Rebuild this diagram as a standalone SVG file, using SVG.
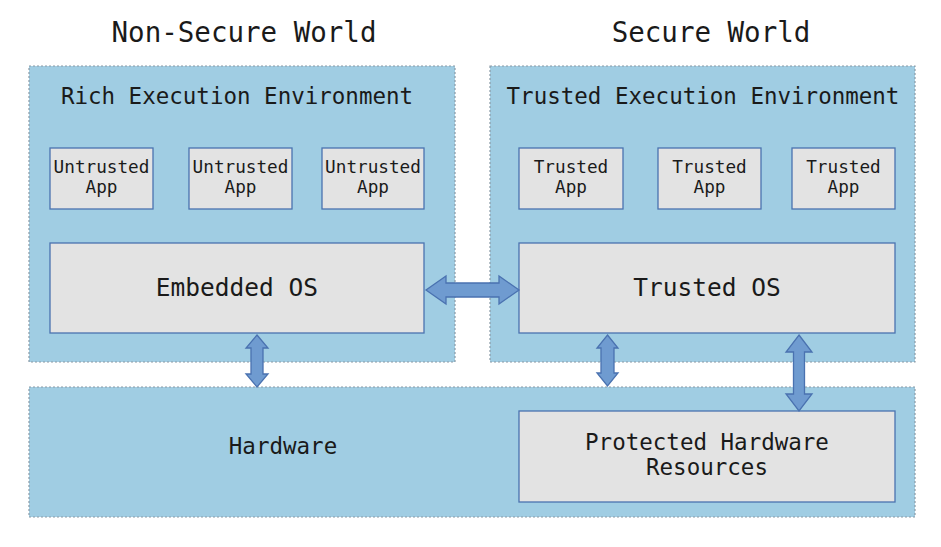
<svg xmlns="http://www.w3.org/2000/svg" width="941" height="547" viewBox="0 0 941 547">
<style>
.panel{fill:#a0cde3;stroke:#8a9aa6;stroke-width:1.2;stroke-dasharray:2 2}
.box{fill:#e3e3e3;stroke:#4a72b0;stroke-width:1.3}
.arr{fill:#6f9bd0;stroke:#4a72b0;stroke-width:1.3;stroke-linejoin:miter}
text{font-family:"DejaVu Sans Mono","Liberation Mono",monospace;fill:#1a1a1a;text-anchor:middle}
.t1{font-size:27.5px}
.t2{font-size:22.5px}
.t3{font-size:17.7px}
.t4{font-size:24.5px}
</style>
<rect width="941" height="547" fill="#ffffff"/>
<text class="t1" x="244" y="42">Non-Secure World</text>
<text class="t1" x="711" y="42">Secure World</text>
<g id="ree">
<rect class="panel" x="29" y="66" width="426" height="296"/>
<text class="t2" x="237" y="104">Rich Execution Environment</text>
</g>
<g id="tee">
<rect class="panel" x="490" y="66" width="425" height="296"/>
<text class="t2" x="703" y="104">Trusted Execution Environment</text>
</g>
<g id="hardware">
<rect class="panel" x="29" y="387" width="886" height="130"/>
<text class="t2" x="283" y="454">Hardware</text>
</g>
<g id="ua1"><rect class="box" x="50" y="148" width="103" height="61"/><text class="t3" x="101.5" y="173">Untrusted</text><text class="t3" x="101.5" y="193">App</text></g>
<g id="ua2"><rect class="box" x="189" y="148" width="103" height="61"/><text class="t3" x="240.5" y="173">Untrusted</text><text class="t3" x="240.5" y="193">App</text></g>
<g id="ua3"><rect class="box" x="322" y="148" width="102" height="61"/><text class="t3" x="373" y="173">Untrusted</text><text class="t3" x="373" y="193">App</text></g>
<g id="ta1"><rect class="box" x="519" y="148" width="104" height="61"/><text class="t3" x="571" y="173">Trusted</text><text class="t3" x="571" y="193">App</text></g>
<g id="ta2"><rect class="box" x="658" y="148" width="103" height="61"/><text class="t3" x="709.5" y="173">Trusted</text><text class="t3" x="709.5" y="193">App</text></g>
<g id="ta3"><rect class="box" x="792" y="148" width="103" height="61"/><text class="t3" x="843.5" y="173">Trusted</text><text class="t3" x="843.5" y="193">App</text></g>
<g id="eos"><rect class="box" x="50" y="243" width="374" height="90"/><text class="t4" x="237" y="296">Embedded OS</text></g>
<g id="tos"><rect class="box" x="519" y="243" width="376" height="90"/><text class="t4" x="707" y="296">Trusted OS</text></g>
<g id="phr"><rect class="box" x="519" y="411" width="376" height="91"/><text class="t2" x="707" y="450">Protected Hardware</text><text class="t2" x="707" y="475">Resources</text></g>
<g id="connectors">
<path class="arr" d="M426,290 L446,276 L446,283 L499,283 L499,276 L519,290 L499,304 L499,297 L446,297 L446,304 Z"/>
<path class="arr" d="M257,335 L268,348 L263,348 L263,374 L268,374 L257,387 L246,374 L251,374 L251,348 L246,348 Z"/>
<path class="arr" d="M607.5,335 L618,348 L614,348 L614,373 L618,373 L607.5,386 L597,373 L601,373 L601,348 L597,348 Z"/>
<path class="arr" d="M799,335 L812,352 L804.5,352 L804.5,394 L812,394 L799,411 L786,394 L793.5,394 L793.5,352 L786,352 Z"/>
</g>
</svg>
